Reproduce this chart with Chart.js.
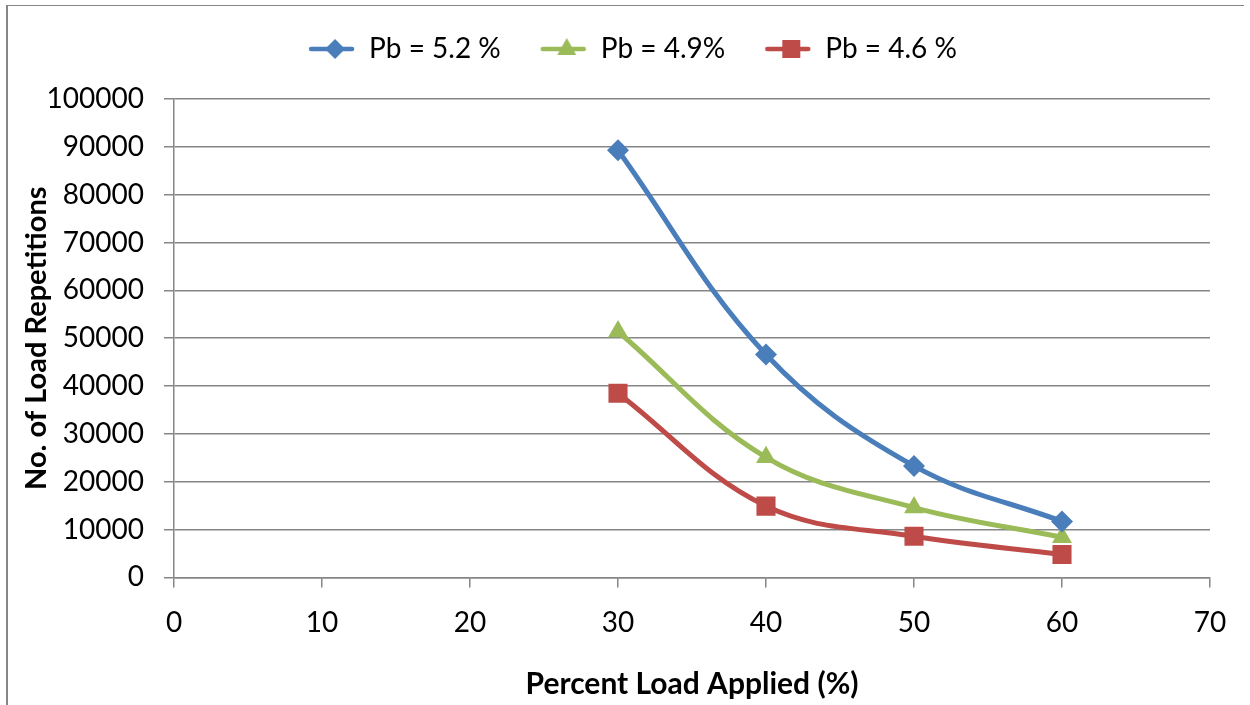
<!DOCTYPE html>
<html>
<head>
<meta charset="utf-8">
<script src="https://cdn.jsdelivr.net/npm/chart.js@4/dist/chart.umd.min.js"></script>
<style>
  html, body { margin: 0; padding: 0; background: #fff; }
  #wrap { position: relative; width: 1250px; height: 705px; }
  #frame { position: absolute; left: 6px; top: 5px; width: 1236px; height: 710px;
           border-left: 2px solid #868686; border-top: 1px solid #868686; pointer-events: none; }
  canvas { position: absolute; left: 0; top: 0; }
</style>
</head>
<body>
<div id="wrap">
  <canvas id="c" width="1250" height="705"></canvas>
  <div id="frame"></div>
</div>
<script>
const loadPercent = [30, 40, 50, 60];
const pb52 = [89300, 46600, 23300, 11700];
const pb49 = [51400, 25100, 14600, 8400];
const pb46 = [38500, 14900, 8600, 4800];
const seriesNames = ['Pb = 5.2 %', 'Pb = 4.9%', 'Pb = 4.6 %'];
const xTicks = [0, 10, 20, 30, 40, 50, 60, 70];
const yTicks = [0, 10000, 20000, 30000, 40000, 50000, 60000, 70000, 80000, 90000, 100000];

const colors = ['#4A7EBB', '#9BBB59', '#BE4B48'];
const styles = ['rectRot', 'triangle', 'rect'];
const radii = [11, 11.5, 13.5];

function pts(vals) { return loadPercent.map((x, i) => ({ x: x, y: vals[i] })); }

const ICON_W = 66;
function legendIcon(color, style) {
  const c = document.createElement('canvas');
  c.width = ICON_W; c.height = 24;
  const g = c.getContext('2d');
  g.strokeStyle = color; g.lineWidth = 4.5; g.lineCap = 'round';
  g.beginPath(); g.moveTo(22, 12); g.lineTo(63, 12); g.stroke();
  g.fillStyle = color;
  const cx = 46, cy = 12;
  g.beginPath();
  if (style === 'rectRot') {
    g.moveTo(cx - 10, cy); g.lineTo(cx, cy - 10); g.lineTo(cx + 10, cy); g.lineTo(cx, cy + 10);
  } else if (style === 'triangle') {
    g.moveTo(cx, cy - 11); g.lineTo(cx + 9.5, cy + 6); g.lineTo(cx - 9.5, cy + 6);
  } else {
    g.rect(cx - 9, cy - 9, 18, 18);
  }
  g.closePath(); g.fill();
  return c;
}
const icons = colors.map((c, i) => legendIcon(c, styles[i]));

const datasets = [pb52, pb49, pb46].map((vals, i) => ({
  label: seriesNames[i],
  data: pts(vals),
  borderColor: colors[i],
  backgroundColor: colors[i],
  borderWidth: 5,
  pointStyle: styles[i],
  pointRadius: radii[i],
  pointBorderWidth: 0,
  pointBackgroundColor: colors[i],
  tension: 0.38,
  fill: false
}));

const legendTweak = {
  id: 'legendTweak',
  beforeLayout(chart) {
    const lg = chart.legend;
    if (lg && !lg._wrapped) {
      const orig = lg.fit;
      lg.fit = function () { orig.apply(this, arguments); this.height += 26; };
      lg._wrapped = true;
    }
  },
  afterLayout(chart) {
    if (chart.legend) { chart.legend.left += 8; chart.legend.right += 8; }
  }
};

new Chart(document.getElementById('c'), {
  type: 'line',
  data: { datasets },
  plugins: [legendTweak],
  options: {
    responsive: false,
    animation: false,
    layout: { padding: { left: 20, right: 40, top: 15, bottom: 3 } },
    plugins: {
      legend: {
        position: 'top',
        labels: {
          usePointStyle: true,
          pointStyleWidth: ICON_W,
          padding: 20,
          color: '#000',
          font: { family: 'Lato', size: 28 },
          generateLabels(chart) {
            return chart.data.datasets.map((d, i) => ({
              text: d.label,
              pointStyle: icons[i],
              fillStyle: colors[i],
              strokeStyle: colors[i],
              lineWidth: 0,
              hidden: false,
              datasetIndex: i,
              fontColor: '#000'
            }));
          }
        }
      },
      tooltip: { enabled: false }
    },
    scales: {
      x: {
        type: 'linear',
        min: 0, max: 70,
        afterBuildTicks(axis) { axis.ticks = xTicks.map(v => ({ value: v })); },
        grid: { drawOnChartArea: false, drawTicks: true, tickLength: 10, color: '#868686', lineWidth: 1.5 },
        border: { color: '#868686', width: 1.5 },
        ticks: { color: '#000', font: { family: 'Lato', size: 28 }, padding: 19, maxRotation: 0 },
        title: { display: true, text: 'Percent Load Applied (%)', color: '#000',
                 font: { family: 'Lato', size: 30, weight: 'bold' }, padding: { top: 7, bottom: 0 } }
      },
      y: {
        type: 'linear',
        min: 0, max: 100000,
        afterBuildTicks(axis) { axis.ticks = yTicks.map(v => ({ value: v })); },
        afterFit(axis) { axis.width = 154; },
        grid: { drawOnChartArea: true, drawTicks: true, tickLength: 10, color: '#868686', lineWidth: 1.5 },
        border: { color: '#868686', width: 1.5 },
        ticks: { color: '#000', font: { family: 'Lato', size: 28 }, padding: 20,
                 callback: v => String(v) },
        title: { display: true, text: 'No. of Load Repetitions', color: '#000',
                 font: { family: 'Lato', size: 29, weight: 'bold', lineHeight: 1 }, padding: { top: 2, bottom: 0 } }
      }
    }
  }
});
</script>
</body>
</html>
